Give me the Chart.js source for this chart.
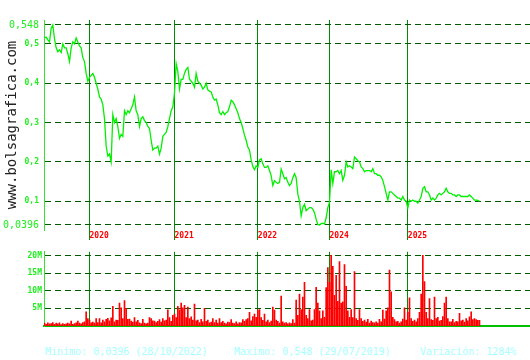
<!DOCTYPE html>
<html>
<head>
<meta charset="utf-8">
<script src="https://cdn.jsdelivr.net/npm/chart.js@4"></script>
<style>
  html,body{margin:0;padding:0;background:#fff;}
  body{width:530px;height:360px;position:relative;overflow:hidden;}
  #c1{position:absolute;left:0;top:0;}
  #c2{position:absolute;left:0;top:245px;}
  .foot{position:absolute;top:346px;font:10px "DejaVu Sans Mono",monospace;color:#a8ffff;white-space:pre;}
</style>
</head>
<body>
<canvas id="c1" width="530" height="245"></canvas>
<canvas id="c2" width="530" height="90"></canvas>
<div class="foot" id="f1" style="left:45px"></div>
<div class="foot" id="f2" style="left:234px"></div>
<div class="foot" id="f3" style="left:420px"></div>
<script>
// ---- data ----
const prices = [
0.515,0.517,0.51,0.505,0.54,0.548,0.513,0.49,0.48,0.485,0.478,0.5,0.49,0.49,0.475,0.455,0.49,0.505,0.5,0.515,
0.505,0.495,0.49,0.465,0.455,0.425,0.405,0.415,0.42,0.425,0.415,0.4,0.385,0.365,0.36,0.345,0.31,0.24,0.215,0.22,
0.2,0.32,0.3,0.31,0.29,0.26,0.27,0.265,0.33,0.32,0.33,0.325,0.335,0.345,0.365,0.33,0.32,0.29,0.31,0.315,
0.305,0.3,0.29,0.285,0.255,0.23,0.235,0.235,0.24,0.22,0.235,0.265,0.27,0.275,0.29,0.31,0.33,0.34,0.375,0.45,
0.43,0.385,0.41,0.41,0.425,0.435,0.44,0.41,0.405,0.4,0.39,0.425,0.405,0.4,0.395,0.385,0.39,0.4,0.383,0.38,
0.378,0.365,0.357,0.36,0.345,0.325,0.32,0.328,0.32,0.325,0.328,0.34,0.357,0.353,0.345,0.335,0.325,0.31,0.3,0.285,
0.268,0.255,0.238,0.23,0.205,0.188,0.18,0.19,0.186,0.205,0.208,0.195,0.186,0.186,0.19,0.178,0.165,0.14,0.152,0.148,
0.145,0.148,0.182,0.17,0.157,0.16,0.148,0.14,0.145,0.16,0.17,0.16,0.118,0.1,0.063,0.084,0.092,0.076,0.08,0.084,
0.084,0.08,0.071,0.054,0.041,0.0396,0.043,0.044,0.042,0.058,0.084,0.097,0.18,0.145,0.175,0.175,0.178,0.17,0.178,0.153,
0.166,0.2,0.187,0.19,0.187,0.183,0.212,0.208,0.203,0.2,0.187,0.183,0.175,0.178,0.178,0.178,0.175,0.183,0.17,0.17,
0.166,0.166,0.162,0.153,0.137,0.12,0.103,0.124,0.124,0.12,0.116,0.112,0.108,0.108,0.103,0.112,0.103,0.1,0.083,0.103,
0.1,0.103,0.1,0.1,0.095,0.103,0.112,0.133,0.137,0.124,0.124,0.116,0.103,0.108,0.103,0.108,0.116,0.12,0.116,0.12,
0.124,0.133,0.124,0.12,0.12,0.116,0.116,0.112,0.116,0.116,0.112,0.112,0.112,0.112,0.112,0.116,0.112,0.108,0.103,0.103,
0.102,0.1
];
// volume in millions
const volumes = [
0.8,0.5,0.9,0.6,0.7,1.0,0.5,0.8,0.6,0.9,0.4,0.7,0.5,0.6,0.8,0.6,1.4,0.5,0.7,0.9,
1.4,0.8,0.6,1.0,1.2,4.0,2.1,1.7,0.9,1.1,0.8,2.1,1.0,2.1,0.9,1.7,1.2,1.9,2.2,1.5,
2.3,5.6,1.2,1.7,1.6,6.5,5.2,2.1,7.2,5.0,1.9,2.0,1.4,1.1,2.4,1.2,1.6,0.9,0.7,1.9,
0.8,0.6,0.8,2.4,2.1,1.5,1.4,1.0,1.3,1.8,1.1,2.1,1.5,1.7,4.6,2.4,1.3,3.0,3.4,2.4,
5.6,4.6,6.5,5.2,5.9,2.4,5.4,2.1,2.6,1.7,6.2,1.5,1.7,1.0,1.9,1.2,5.0,1.3,1.7,0.9,
1.1,2.1,1.0,1.7,0.8,2.1,1.0,1.3,0.8,0.6,1.1,1.0,1.8,0.8,0.7,1.2,0.6,1.0,0.9,1.8,
1.3,1.8,2.1,3.9,1.5,2.7,3.4,2.5,4.5,4.7,2.4,1.6,3.4,1.2,1.7,1.0,1.4,5.4,4.5,1.7,
1.3,0.8,8.5,1.2,0.8,1.0,0.6,0.9,0.7,1.8,0.8,7.4,3.0,9.1,4.7,8.2,12.4,3.0,2.1,4.7,
1.5,1.7,4.7,11.0,6.5,4.3,2.1,4.3,2.5,10.9,16.6,12.4,20.1,17.0,8.7,14.4,7.0,18.3,6.5,6.9,
17.5,11.3,4.3,2.5,4.7,2.4,15.5,2.1,1.6,4.7,2.1,1.3,1.7,1.1,1.9,0.8,1.4,1.0,0.9,1.2,
0.8,1.9,1.2,4.5,2.0,4.3,5.2,15.9,9.7,2.5,1.8,1.2,1.3,0.8,1.2,2.0,5.2,1.7,3.9,8.0,
2.1,1.3,1.7,1.2,2.1,3.9,9.1,20.1,12.6,3.9,2.1,7.8,1.8,1.6,8.2,2.1,2.5,1.4,1.6,2.7,
6.5,8.2,2.1,1.2,1.2,1.9,1.0,1.3,1.2,3.6,1.5,1.7,1.1,2.1,1.5,2.6,4.0,1.8,2.1,1.8,
1.6,1.6
];
const yearStarts = [27, 78, 128, 171, 218];
const yearLabels = ['2020', '2021', '2022', '2024', '2025'];
const priceTicks = [0.0396, 0.1, 0.2, 0.3, 0.4, 0.5, 0.548];
const priceTickLabels = ['0,0396', '0,1', '0,2', '0,3', '0,4', '0,5', '0,548'];
const volTicks = [5, 10, 15, 20];
const volTickLabels = ['5M', '10M', '15M', '20M'];
const footTexts = ['Minimo: 0,0396 (28/10/2022)', 'Maximo: 0,548 (29/07/2019)', 'Variación: 1284%'];

document.getElementById('f1').textContent = footTexts[0];
document.getElementById('f2').textContent = footTexts[1];
document.getElementById('f3').textContent = footTexts[2];

const MONO = '"DejaVu Sans Mono", monospace';
const XMIN = -0.3, XMAX = 291.3;
const GRID_DARK = '#005a00';
const YEAR_GREEN = '#008c00';
const AXIS_GREEN = '#33e033';

function xScale(showLabels) {
  return {
    type: 'linear', min: XMIN, max: XMAX, offset: false,
    afterBuildTicks: s => { s.ticks = yearStarts.map(v => ({value: v})); },
    afterFit: s => { s.height = showLabels ? 15 : 0; },
    grid: { offset: false, color: YEAR_GREEN, lineWidth: 1, drawTicks: showLabels, tickLength: 10, tickColor: YEAR_GREEN },
    border: { display: !showLabels, color: '#00c000', width: 2 },
    ticks: {
      display: showLabels, autoSkip: false, maxRotation: 0, align: 'start', padding: -9,
      color: '#ff0000', font: { family: MONO, size: 8, weight: 'bold' },
      callback: (v, i) => yearLabels[i]
    }
  };
}

new Chart(document.getElementById('c1'), {
  type: 'line',
  data: { datasets: [{
    data: prices.map((v, i) => ({x: i, y: v})),
    borderColor: '#00f000', borderWidth: 1.3, pointRadius: 0, tension: 0
  }]},
  options: {
    responsive: false, animation: false, devicePixelRatio: 1,
    layout: { padding: { top: 20, right: 0, bottom: 0, left: 0 } },
    plugins: { legend: { display: false }, tooltip: { enabled: false } },
    scales: {
      x: xScale(true),
      y: {
        min: 0.02689, max: 0.5607,
        afterBuildTicks: s => { s.ticks = priceTicks.map(v => ({value: v})); },
        afterFit: s => { s.width = 44; },
        grid: { color: GRID_DARK, lineWidth: 1, drawTicks: false },
        border: { display: true, color: AXIS_GREEN, width: 1, dash: [6, 4] },
        title: { display: true, text: 'www.bolsagrafica.com', color: '#222', font: { family: MONO, size: 14 }, padding: { top: 4, bottom: 0 } },
        ticks: {
          padding: 5, color: '#22ee22',
          font: ctx => {
            const v = ctx.tick ? ctx.tick.value : 0;
            return (v === 0.548 || v === 0.0396) ? { family: MONO, size: 10 } : { family: MONO, size: 8, weight: 'bold' };
          },
          callback: (v, i) => priceTickLabels[i]
        }
      }
    }
  }
});

new Chart(document.getElementById('c2'), {
  type: 'bar',
  data: { datasets: [{
    data: volumes.map((v, i) => ({x: i, y: v})),
    backgroundColor: '#ff0000', barThickness: 1, borderWidth: 0
  }]},
  options: {
    responsive: false, animation: false, devicePixelRatio: 1,
    layout: { padding: { top: 5, right: 0, bottom: 9, left: 0 } },
    plugins: { legend: { display: false }, tooltip: { enabled: false } },
    scales: {
      x: xScale(false),
      y: {
        min: 0, max: 21.1,
        afterBuildTicks: s => { s.ticks = volTicks.map(v => ({value: v})); },
        afterFit: s => { s.width = 44; },
        grid: { color: GRID_DARK, lineWidth: 1, drawTicks: false },
        border: { display: true, color: AXIS_GREEN, width: 1, dash: [6, 4] },
        ticks: {
          padding: 2, color: '#22ee22', font: { family: MONO, size: 8, weight: 'bold' },
          callback: (v, i) => volTickLabels[i]
        }
      }
    }
  }
});
</script>
</body>
</html>
